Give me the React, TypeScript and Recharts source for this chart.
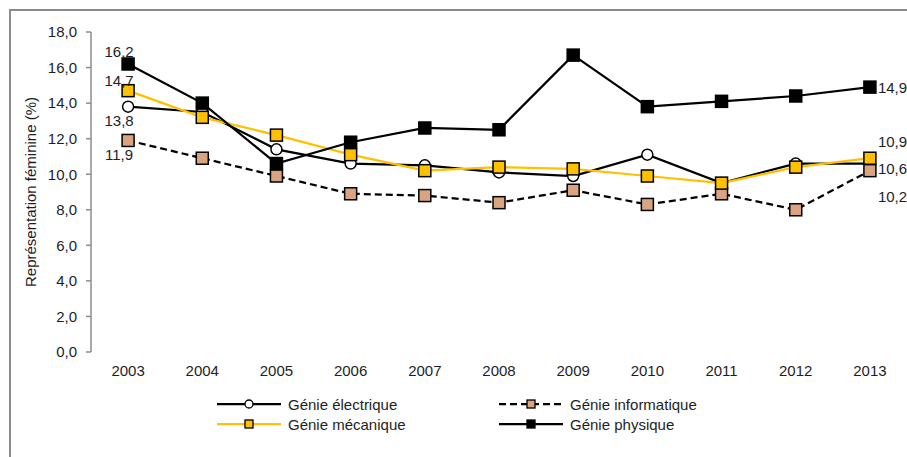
import React from 'react';
import { LineChart, Line, XAxis, YAxis, Legend } from 'recharts';

const years = ['2003', '2004', '2005', '2006', '2007', '2008', '2009', '2010', '2011', '2012', '2013'];
const electrique = [13.8, 13.5, 11.4, 10.6, 10.5, 10.1, 9.9, 11.1, 9.5, 10.6, 10.6];
const informatique = [11.9, 10.9, 9.9, 8.9, 8.8, 8.4, 9.1, 8.3, 8.9, 8.0, 10.2];
const mecanique = [14.7, 13.2, 12.2, 11.1, 10.2, 10.4, 10.3, 9.9, 9.5, 10.4, 10.9];
const physique = [16.2, 14.0, 10.6, 11.8, 12.6, 12.5, 16.7, 13.8, 14.1, 14.4, 14.9];
const yTicks = [0, 2, 4, 6, 8, 10, 12, 14, 16, 18];

const data = years.map((year, i) => ({
  i,
  year,
  electrique: electrique[i],
  informatique: informatique[i],
  mecanique: mecanique[i],
  physique: physique[i],
}));

const FONT = '"Liberation Sans", Arial, sans-serif';
const TXT = '#1e1e1e';
const AXIS = '#8c8c8c';
const fmt = (v: number) => v.toFixed(1).replace('.', ',');

type Series = {
  key: string;
  name: string;
  stroke: string;
  fill: string;
  shape: 'circle' | 'square';
  dash?: string;
  first: { dx: number; dy: number };
  last: { dx: number; dy: number };
};

const series: Series[] = [
  { key: 'electrique', name: 'Génie électrique', stroke: '#000', fill: '#fff', shape: 'circle', first: { dx: -9, dy: 14 }, last: { dx: 8, dy: 5 } },
  { key: 'informatique', name: 'Génie informatique', stroke: '#000', fill: '#d9a47f', shape: 'square', dash: '7 4', first: { dx: -9, dy: 14 }, last: { dx: 8, dy: 26 } },
  { key: 'mecanique', name: 'Génie mécanique', stroke: '#ffc000', fill: '#ffc000', shape: 'square', first: { dx: -9, dy: -10 }, last: { dx: 8, dy: -17 } },
  { key: 'physique', name: 'Génie physique', stroke: '#000', fill: '#000', shape: 'square', first: { dx: -9, dy: -13 }, last: { dx: 8, dy: 0 } },
];

const makeDot = (s: Series) => (p: any) => {
  const { cx, cy, index } = p;
  if (cx == null || cy == null) return <g key={index} />;
  if (s.shape === 'circle')
    return <circle key={index} cx={cx} cy={cy} r={5.5} fill={s.fill} stroke="#000" strokeWidth={1.5} />;
  return <rect key={index} x={cx - 6} y={cy - 6} width={12} height={12} fill={s.fill} stroke="#000" strokeWidth={1.5} />;
};

const makeLabel = (s: Series) => (p: any) => {
  const { x, y, index, value } = p;
  if (index !== 0 && index !== years.length - 1) return null;
  const first = index === 0;
  const o = first ? s.first : s.last;
  return (
    <text
      key={index}
      x={x + o.dx}
      y={y + o.dy}
      textAnchor={first ? 'middle' : 'start'}
      dominantBaseline="central"
      fontSize={15}
      fontFamily={FONT}
      fill={TXT}
    >
      {fmt(Number(value))}
    </text>
  );
};

const legendPos = [
  { left: 217, top: 22 },
  { left: 499, top: 22 },
  { left: 217, top: 42 },
  { left: 499, top: 42 },
];

function LegendContent() {
  return (
    <div style={{ position: 'relative', width: 907, height: 60 }}>
      {series.map((s, k) => (
        <div
          key={s.key}
          style={{ position: 'absolute', left: legendPos[k].left, top: legendPos[k].top - 10, height: 20, display: 'flex', alignItems: 'center' }}
        >
          <svg width={64} height={20} style={{ display: 'block' }}>
            <line x1={0} y1={10} x2={64} y2={10} stroke={s.stroke} strokeWidth={2.25} strokeDasharray={s.dash} />
            {s.shape === 'circle' ? (
              <circle cx={32} cy={10} r={4} fill={s.fill} stroke="#000" strokeWidth={1.3} />
            ) : (
              <rect x={28} y={6} width={8} height={8} fill={s.fill} stroke="#000" strokeWidth={1.3} />
            )}
          </svg>
          <span style={{ marginLeft: 7, fontFamily: FONT, fontSize: 15, color: TXT, whiteSpace: 'nowrap' }}>{s.name}</span>
        </div>
      ))}
    </div>
  );
}

export default function App() {
  const bounds = years.map((_, i) => i - 0.5).concat([years.length - 0.5]);
  return (
    <div style={{ position: 'absolute', left: 0, top: 0, width: 907, height: 457, overflow: 'hidden', background: '#fff' }}>
      <div
        style={{
          position: 'absolute',
          left: 9,
          top: 9,
          width: 1000,
          height: 1000,
          border: `2px solid ${AXIS}`,
          boxSizing: 'border-box',
        }}
      />
      <LineChart
        width={907}
        height={457}
        data={data}
        margin={{ top: 32, right: 0, left: 0, bottom: 15 }}
        style={{ position: 'absolute', left: 0, top: 0 }}
      >
        <XAxis
          xAxisId="b"
          dataKey="i"
          type="number"
          domain={[-0.5, years.length - 0.5]}
          ticks={bounds}
          tick={false}
          tickSize={5}
          height={0}
          axisLine={{ stroke: AXIS, strokeWidth: 1.5 }}
          tickLine={{ stroke: AXIS, strokeWidth: 1.5 }}
          allowDataOverflow
        />
        <XAxis
          dataKey="i"
          type="number"
          domain={[-0.5, years.length - 0.5]}
          ticks={years.map((_, i) => i)}
          tickFormatter={(v: number) => years[v] ?? ''}
          interval={0}
          axisLine={false}
          tickLine={false}
          tickSize={0}
          tickMargin={13}
          height={30}
          tick={{ fontSize: 15, fontFamily: FONT, fill: TXT }}
          allowDataOverflow
        />
        <YAxis
          domain={[0, 18]}
          ticks={yTicks}
          width={91}
          tickFormatter={fmt}
          tickSize={5}
          tickMargin={9}
          axisLine={{ stroke: AXIS, strokeWidth: 1.5 }}
          tickLine={{ stroke: AXIS, strokeWidth: 1.5 }}
          tick={{ fontSize: 15, fontFamily: FONT, fill: TXT }}
          label={{
            content: (p: any) => {
              const vb = p.viewBox;
              const cx = vb.x + 30;
              const cy = vb.y + vb.height / 2;
              return (
                <text
                  x={cx}
                  y={cy}
                  transform={`rotate(-90, ${cx}, ${cy})`}
                  textAnchor="middle"
                  dominantBaseline="central"
                  fontSize={15}
                  fontFamily={FONT}
                  fill={TXT}
                >
                  Représentation féminine (%)
                </text>
              );
            },
          }}
        />
        <Legend verticalAlign="bottom" content={() => <LegendContent />} />
        {series.map((s) => (
          <Line
            key={s.key}
            dataKey={s.key}
            name={s.name}
            type="linear"
            stroke={s.stroke}
            strokeWidth={2.25}
            strokeDasharray={s.dash}
            dot={makeDot(s)}
            activeDot={false}
            label={makeLabel(s)}
            isAnimationActive={false}
          />
        ))}
      </LineChart>
    </div>
  );
}
